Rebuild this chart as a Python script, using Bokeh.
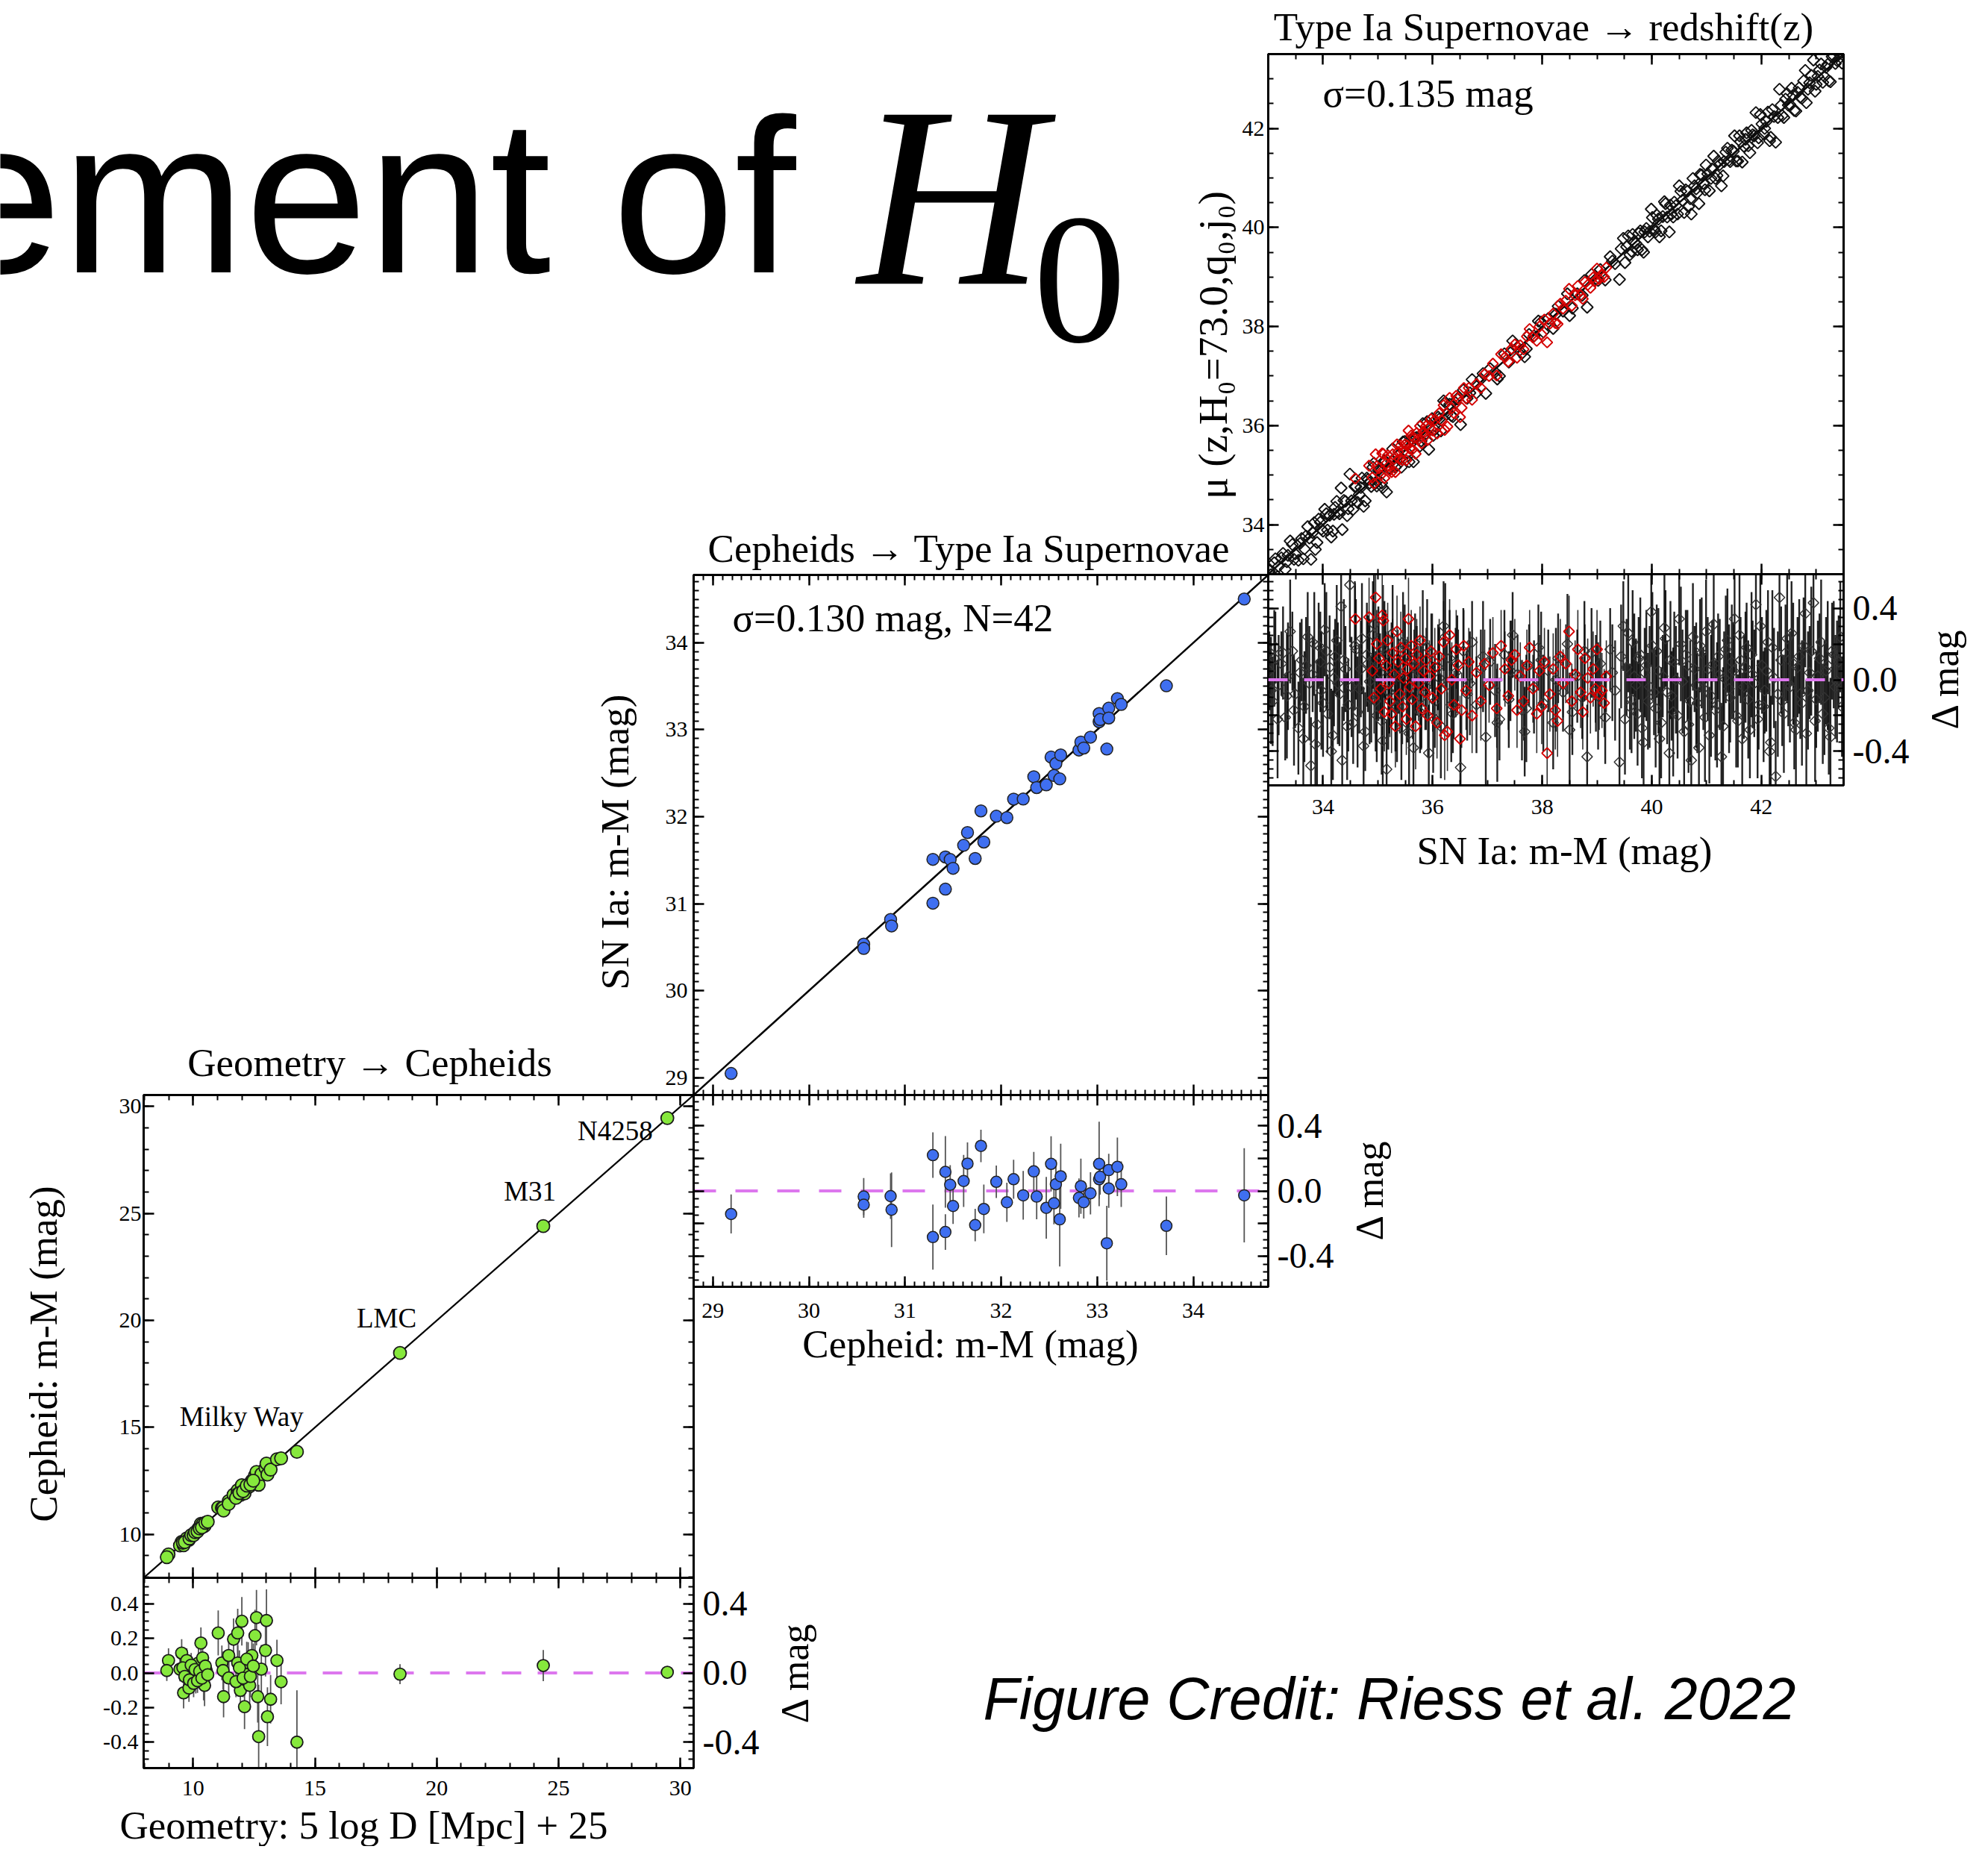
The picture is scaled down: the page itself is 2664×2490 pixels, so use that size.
import numpy as np
from bokeh.plotting import figure
from bokeh.models import (Range1d, LinearAxis, SingleIntervalTicker, CustomJSTickFormatter,
                          Span, Slope, ColumnDataSource, Column)
from bokeh.core.properties import value
from bokeh.embed import file_html
from bokeh.resources import INLINE

W, H = 2648, 2474
OFF = 8
SERIF = "Liberation Serif"
SANS = "Liberation Sans"

# ---------------- data: Geometry -> Cepheids ----------------
geo_mu = [8.99, 8.92, 9.53, 9.46, 9.61, 9.74, 9.83, 9.96, 10.11, 10.22,
          10.32, 10.39, 10.43, 10.54, 10.47, 9.58, 9.66, 9.85, 9.92, 10.02,
          10.08, 10.18, 10.27, 10.36, 10.50, 10.60, 11.03, 11.18, 11.23, 11.25,
          11.46, 11.46, 11.66, 11.83, 12.00, 11.83, 11.94, 12.11, 12.15, 12.26,
          12.32, 12.41, 12.54, 12.60, 12.65, 12.69, 12.80, 12.97, 13.01, 13.05,
          13.18, 13.44, 13.61, 14.26, 11.76, 11.90, 12.05, 12.20, 12.35, 12.47,
          18.49, 24.37, 29.46]
geo_dmu = [0.072, 0.014, 0.115, 0.022, -0.115, 0.072, -0.087, 0.014, -0.029, 0.058,
           0.173, 0.087, -0.058, 0.014, -0.072, 0.030, -0.020, -0.040, 0.045, -0.060,
           0.020, -0.045, 0.010, -0.030, 0.040, -0.010, 0.231, 0.058, 0.014, -0.137,
           0.101, -0.029, 0.195, 0.231, 0.299, 0.058, -0.101, -0.195, 0.000, 0.058,
           -0.072, 0.101, 0.216, 0.320, -0.137, -0.368, 0.022, 0.130, 0.303, -0.253,
           -0.152, 0.072, -0.051, -0.400, -0.050, 0.030, -0.030, 0.080, -0.020, 0.040,
           -0.007, 0.043, 0.004]
geo_err = [0.07, 0.06, 0.08, 0.07, 0.09, 0.07, 0.08, 0.08, 0.09, 0.08,
           0.09, 0.08, 0.10, 0.09, 0.12, 0.06, 0.07, 0.06, 0.07, 0.08,
           0.06, 0.07, 0.08, 0.07, 0.08, 0.09, 0.13, 0.10, 0.11, 0.12,
           0.10, 0.11, 0.12, 0.14, 0.14, 0.10, 0.12, 0.13, 0.11, 0.12,
           0.13, 0.12, 0.15, 0.16, 0.15, 0.30, 0.14, 0.15, 0.18, 0.17,
           0.14, 0.12, 0.13, 0.30, 0.09, 0.10, 0.11, 0.10, 0.12, 0.13,
           0.058, 0.09, 0.035]
geo_names = ["Milky Way", "LMC", "M31", "N4258"]

# ---------------- data: Cepheids -> SN Ia ----------------
ceph_mu = [29.19, 30.57, 30.57, 30.85, 30.86, 31.29, 31.29, 31.42, 31.42, 31.47,
           31.50, 31.61, 31.65, 31.73, 31.79, 31.82, 31.95, 32.06, 32.13, 32.23,
           32.34, 32.37, 32.47, 32.52, 32.55, 32.57, 32.62, 32.61, 32.81, 32.83,
           32.86, 32.93, 33.02, 33.02, 33.03, 33.10, 33.12, 33.12, 33.21, 33.25,
           33.72, 34.53]
ceph_dmu = [-0.142, -0.035, -0.085, -0.032, -0.116, 0.220, -0.284, 0.117, -0.253, 0.038,
            -0.093, 0.061, 0.168, -0.210, 0.277, -0.111, 0.056, -0.070, 0.072, -0.027,
            0.120, -0.035, -0.104, 0.166, -0.076, 0.041, 0.090, -0.175, -0.043, 0.029,
            -0.070, -0.015, 0.166, 0.072, 0.087, -0.322, 0.128, 0.015, 0.148, 0.041,
            -0.215, -0.027]
ceph_err = [0.12, 0.114, 0.08, 0.14, 0.23, 0.14, 0.20, 0.22, 0.11, 0.12,
            0.11, 0.16, 0.13, 0.10, 0.10, 0.15, 0.10, 0.12, 0.12, 0.15,
            0.12, 0.14, 0.19, 0.17, 0.13, 0.15, 0.20, 0.29, 0.12, 0.17,
            0.10, 0.13, 0.26, 0.12, 0.11, 0.23, 0.10, 0.12, 0.18, 0.14,
            0.18, 0.29]

# ---------------- data: SN Ia -> redshift (Hubble flow, black) ----------------
sn_mu = [33.02, 33.08, 33.13, 33.19, 33.24, 33.31, 33.36, 33.44, 33.49, 33.55,
         33.61, 33.66, 33.72, 33.78, 33.81, 33.86, 33.92, 33.97, 34.03, 34.08,
         34.12, 34.18, 34.22, 34.27, 34.33, 34.35, 34.41, 34.46, 34.49, 34.55,
         34.60, 34.66, 34.71, 34.77, 34.82, 34.88, 34.93, 34.98, 35.04, 35.09,
         35.14, 35.16, 35.21, 35.27, 35.32, 35.38, 35.43, 35.49, 35.54, 35.60,
         35.65, 35.71, 35.77, 35.82, 35.88, 35.93, 35.99, 36.04, 36.10, 36.15,
         36.20, 36.26, 36.31, 36.37, 36.42, 36.51, 36.56, 36.63, 36.72, 36.80,
         36.88, 36.97, 37.05, 37.14, 37.22, 37.31, 37.39, 37.46, 37.55, 37.63,
         37.68, 37.76, 37.85, 37.93, 38.02, 38.11, 38.20, 38.29, 38.38, 38.46,
         38.55, 38.64, 38.73, 38.82, 38.90, 38.98, 39.06, 39.15, 39.24, 39.33,
         39.41, 39.48, 39.54, 39.60, 39.65, 39.71, 39.76, 39.82, 39.87, 39.93,
         39.99, 40.04, 40.09, 40.14, 40.20, 40.25, 40.32, 40.36, 40.41, 40.47,
         40.50, 40.56, 40.62, 40.67, 40.72, 40.78, 40.83, 40.88, 40.94, 40.99,
         41.05, 41.10, 41.16, 41.21, 41.27, 41.32, 41.38, 41.43, 41.49, 41.51,
         41.57, 41.62, 41.68, 41.73, 41.79, 41.84, 41.90, 41.95, 42.01, 42.06,
         42.12, 42.17, 42.23, 42.26, 42.33, 42.38, 42.44, 42.49, 42.55, 42.60,
         42.66, 42.71, 42.77, 42.82, 42.88, 42.95, 43.00, 43.06, 43.12, 43.18,
         43.23, 43.29, 43.35, 43.41, 43.47,
         33.05, 33.11, 33.17, 33.27, 33.34, 33.40, 33.47, 33.58, 33.64, 33.69,
         33.75, 33.84, 33.89, 33.95, 34.00, 34.06, 34.15, 34.20, 34.25, 34.30,
         34.38, 34.44, 34.52, 34.58, 34.63, 34.69, 34.74, 34.80, 34.85, 34.91,
         34.96, 35.01, 35.07, 35.12, 35.19, 35.25, 35.35, 35.46, 35.57, 35.68,
         35.79, 35.90, 36.01, 36.12, 36.23, 36.34, 36.45, 36.68, 36.92, 37.18,
         37.42, 37.71, 37.98, 38.25, 38.50, 38.77, 39.02, 39.28, 39.44, 39.51,
         39.57, 39.63, 39.68, 39.74, 39.79, 39.85, 39.90, 39.96, 40.01, 40.07,
         40.12, 40.17, 40.23, 40.28, 40.34, 40.39, 40.44, 40.53, 40.59, 40.65,
         40.70, 40.75, 40.81, 40.86, 40.91, 40.97, 41.02, 41.08, 41.13, 41.19,
         41.24, 41.30, 41.35, 41.41, 41.46, 41.54, 41.60, 41.65, 41.71, 41.76,
         41.82, 41.87, 41.93, 41.98, 42.04, 42.09, 42.15, 42.20, 42.30, 42.36,
         42.41, 42.47, 42.52, 42.58, 42.63, 42.69, 42.74, 42.80, 42.85, 42.91,
         42.98, 43.03, 43.09, 43.15, 43.21, 43.26, 43.32, 43.38, 43.44]
sn_dmu = [0.05, -0.12, 0.18, -0.03, 0.09, -0.21, 0.02, 0.16, -0.08, -0.27,
          0.11, -0.15, 0.24, -0.48, 0.03, -0.36, 0.19, -0.06, 0.28, -0.19,
          0.07, -0.31, 0.13, -0.02, 0.41, -0.45, 0.06, -0.14, 0.53, -0.24,
          0.17, -0.05, 0.23, -0.29, 0.09, -0.11, 0.31, -0.20, 0.04, -0.34,
          0.14, -0.50, -0.07, 0.26, -0.16, 0.02, -0.27, 0.19, -0.09, 0.11,
          -0.38, 0.05, -0.18, 0.22, -0.04, -0.41, 0.15, -0.12, 0.07, -0.26,
          0.30, -0.03, 0.12, -0.19, 0.04, -0.49, 0.16, -0.08, 0.21, -0.14,
          0.06, -0.32, 0.10, -0.06, -0.22, 0.14, -0.11, 0.25, 0.03, -0.17,
          -0.29, 0.08, -0.04, 0.18, -0.13, 0.05, -0.24, 0.12, -0.07, 0.20,
          -0.18, 0.02, -0.10, -0.43, 0.15, -0.02, 0.09, -0.21, 0.17, -0.06,
          -0.46, 0.30, 0.07, -0.15, 0.21, -0.03, 0.12, -0.27, 0.04, -0.12,
          0.38, -0.07, 0.16, -0.33, 0.02, 0.23, -0.41, -0.09, 0.10, -0.20,
          0.34, -0.01, 0.14, -0.25, -0.45, 0.06, -0.13, 0.19, -0.05, 0.27,
          -0.31, 0.08, -0.17, 0.13, -0.43, 0.01, 0.22, -0.10, 0.05, 0.34,
          -0.23, 0.11, -0.04, 0.18, -0.28, 0.03, 0.42, -0.14, 0.08, -0.06,
          0.21, -0.35, 0.01, -0.54, 0.46, -0.12, 0.15, -0.02, 0.26, -0.24,
          0.07, -0.08, 0.19, -0.30, 0.04, 0.43, -0.11, 0.12, -0.19, 0.05,
          -0.27, 0.16, -0.04, 0.10, -0.15,
          -0.06, 0.12, -0.22, 0.15, -0.09, 0.27, -0.17, 0.04, -0.33, 0.08,
          -0.02, 0.20, -0.25, 0.10, -0.13, 0.16, -0.40, 0.01, 0.22, -0.08,
          0.11, -0.26, -0.04, 0.19, -0.18, 0.06, -0.37, 0.14, -0.01, 0.25,
          -0.12, 0.09, -0.23, 0.17, -0.06, 0.03, -0.15, 0.21, -0.30, 0.07,
          -0.10, 0.18, -0.21, 0.01, 0.24, -0.14, 0.09, -0.02, 0.13, -0.24,
          0.05, -0.16, 0.11, 0.00, -0.28, 0.16, -0.09, 0.04, 0.13, -0.22,
          0.26, -0.11, 0.02, -0.19, 0.14, -0.35, 0.08, -0.04, 0.19, -0.16,
          0.05, -0.24, 0.29, -0.07, 0.11, -0.18, 0.00, 0.20, -0.29, 0.08,
          -0.12, 0.24, -0.03, -0.38, 0.15, -0.21, 0.06, -0.09, 0.31, -0.14,
          0.03, -0.26, 0.17, -0.05, 0.10, -0.20, 0.25, -0.33, 0.07, -0.11,
          0.14, -0.02, -0.22, 0.30, -0.15, 0.05, -0.40, 0.18, -0.08, 0.11,
          -0.19, 0.23, -0.04, 0.09, -0.28, 0.13, -0.13, 0.37, -0.06, 0.16,
          -0.23, 0.02, 0.21, -0.10, 0.08, -0.32, 0.14, -0.01, 0.24]
sn_err = [0.22, 0.25, 0.20, 0.28, 0.18, 0.24, 0.30, 0.22, 0.19, 0.26,
          0.23, 0.31, 0.25, 0.27, 0.21, 0.28, 0.24, 0.33, 0.26, 0.22,
          0.29, 0.25, 0.21, 0.34, 0.27, 0.30, 0.24, 0.26, 0.32, 0.23,
          0.28, 0.25, 0.31, 0.22, 0.27, 0.24, 0.29, 0.26, 0.22, 0.30,
          0.25, 0.28, 0.23, 0.27, 0.24, 0.21, 0.29, 0.23, 0.26, 0.22,
          0.31, 0.25, 0.23, 0.28, 0.24, 0.27, 0.22, 0.26, 0.24, 0.29,
          0.25, 0.23, 0.27, 0.22, 0.25, 0.30, 0.24, 0.26, 0.23, 0.27,
          0.22, 0.29, 0.24, 0.26, 0.23, 0.25, 0.27, 0.24, 0.22, 0.28,
          0.25, 0.23, 0.26, 0.24, 0.27, 0.23, 0.26, 0.25, 0.22, 0.28,
          0.24, 0.26, 0.23, 0.29, 0.25, 0.27, 0.24, 0.26, 0.23, 0.28,
          0.30, 0.25, 0.27, 0.24, 0.29, 0.26, 0.23, 0.28, 0.25, 0.27,
          0.30, 0.24, 0.26, 0.29, 0.23, 0.27, 0.30, 0.25, 0.28, 0.24,
          0.26, 0.29, 0.25, 0.27, 0.31, 0.24, 0.28, 0.26, 0.23, 0.29,
          0.27, 0.25, 0.28, 0.24, 0.30, 0.26, 0.29, 0.25, 0.27, 0.30,
          0.26, 0.24, 0.29, 0.25, 0.27, 0.30, 0.28, 0.25, 0.27, 0.24,
          0.29, 0.26, 0.28, 0.31, 0.30, 0.25, 0.27, 0.24, 0.29, 0.26,
          0.28, 0.25, 0.27, 0.30, 0.26, 0.29, 0.27, 0.25, 0.28, 0.30,
          0.26, 0.27, 0.29, 0.26, 0.28,
          0.30, 0.27, 0.33, 0.26, 0.35, 0.29, 0.31, 0.28, 0.34, 0.27,
          0.32, 0.29, 0.36, 0.28, 0.30, 0.33, 0.35, 0.27, 0.31, 0.29,
          0.34, 0.30, 0.28, 0.36, 0.31, 0.27, 0.33, 0.29, 0.35, 0.30,
          0.28, 0.32, 0.30, 0.27, 0.33, 0.29, 0.31, 0.28, 0.34, 0.30,
          0.29, 0.27, 0.31, 0.28, 0.30, 0.32, 0.27, 0.29, 0.31, 0.33,
          0.28, 0.30, 0.27, 0.29, 0.32, 0.28, 0.30, 0.27, 0.29, 0.31,
          0.33, 0.30, 0.35, 0.29, 0.32, 0.36, 0.31, 0.34, 0.30, 0.33,
          0.35, 0.31, 0.34, 0.29, 0.33, 0.36, 0.30, 0.32, 0.37, 0.31,
          0.34, 0.30, 0.35, 0.33, 0.31, 0.36, 0.29, 0.34, 0.32, 0.35,
          0.31, 0.33, 0.30, 0.36, 0.32, 0.29, 0.34, 0.37, 0.31, 0.33,
          0.35, 0.30, 0.33, 0.36, 0.31, 0.34, 0.38, 0.32, 0.35, 0.30,
          0.33, 0.36, 0.31, 0.34, 0.37, 0.32, 0.35, 0.30, 0.33, 0.36,
          0.34, 0.31, 0.35, 0.32, 0.36, 0.33, 0.30, 0.34, 0.31]

# ---------------- data: SN Ia in Cepheid-range redshift sample (red) ----------------
red_mu = [34.59, 34.84, 34.96, 34.90, 34.93, 34.98, 35.02, 35.05, 35.08, 35.10,
          35.12, 35.15, 35.18, 35.20, 35.22, 35.25, 35.27, 35.30, 35.32, 35.35,
          35.37, 35.40, 35.42, 35.45, 35.47, 35.50, 35.52, 35.54, 35.56, 35.58,
          35.61, 35.63, 35.66, 35.69, 35.71, 35.74, 35.77, 35.80, 35.83, 35.86,
          35.88, 35.91, 35.94, 35.97, 36.00, 36.04, 36.08, 36.12, 36.16, 36.20,
          36.22, 36.27, 36.31, 36.35, 36.39, 36.43, 36.47, 36.50, 36.53, 36.57,
          36.61, 36.66, 36.72, 36.80, 36.88, 36.95, 37.03, 37.10, 37.17, 37.25,
          37.32, 37.38, 37.44, 37.50, 37.54, 37.60, 37.66, 37.72, 37.77, 37.83,
          37.90, 37.95, 37.99, 38.04, 38.09, 38.14, 38.20, 38.24, 38.28, 38.33,
          38.38, 38.43, 38.49, 38.54, 38.60, 38.65, 38.70, 38.74, 38.78, 38.83,
          38.88, 38.93, 38.97, 39.00, 39.04, 39.09, 39.13, 39.17]
red_dmu = [0.34, 0.35, 0.46, 0.05, -0.10, 0.20, 0.12, -0.05, 0.36, 0.33,
           -0.18, 0.08, 0.22, -0.02, -0.12, -0.19, 0.15, 0.03, -0.26, 0.27,
           0.10, -0.08, 0.18, -0.15, 0.01, 0.12, -0.22, 0.06, 0.34, -0.04,
           0.19, -0.11, 0.09, -0.26, 0.14, -0.02, 0.22, -0.16, 0.05, -0.07,
           0.11, -0.20, 0.02, 0.16, -0.10, 0.07, -0.24, 0.13, -0.05, 0.21,
           -0.31, -0.29, 0.25, 0.00, -0.14, 0.17, 0.08, -0.33, -0.17, 0.19,
           -0.06, 0.10, -0.20, 0.04, -0.12, 0.09, -0.03, 0.15, -0.16, 0.19,
           0.06, -0.09, 0.11, 0.14, -0.17, 0.02, -0.12, 0.08, 0.18, -0.05,
           -0.19, 0.05, -0.15, 0.10, -0.41, -0.08, 0.06, -0.17, -0.23, 0.13,
           -0.02, 0.09, 0.27, -0.12, 0.03, 0.17, -0.07, -0.18, 0.12, 0.01,
           -0.10, 0.06, -0.05, 0.17, -0.08, -0.06, -0.13, 0.02]
red_err = [0.20, 0.22, 0.24, 0.18, 0.20, 0.19, 0.21, 0.17, 0.23, 0.20,
           0.22, 0.19, 0.21, 0.18, 0.20, 0.22, 0.19, 0.21, 0.23, 0.20,
           0.18, 0.22, 0.20, 0.21, 0.19, 0.22, 0.20, 0.18, 0.23, 0.21,
           0.20, 0.22, 0.19, 0.24, 0.20, 0.21, 0.19, 0.22, 0.20, 0.21,
           0.18, 0.23, 0.20, 0.21, 0.19, 0.22, 0.20, 0.21, 0.19, 0.23,
           0.25, 0.22, 0.20, 0.21, 0.19, 0.22, 0.20, 0.24, 0.21, 0.20,
           0.22, 0.19, 0.21, 0.20, 0.22, 0.19, 0.21, 0.20, 0.22, 0.20,
           0.21, 0.19, 0.22, 0.20, 0.21, 0.19, 0.22, 0.20, 0.21, 0.19,
           0.22, 0.20, 0.21, 0.19, 0.24, 0.21, 0.20, 0.22, 0.20, 0.21,
           0.19, 0.22, 0.20, 0.21, 0.19, 0.22, 0.20, 0.21, 0.19, 0.22,
           0.20, 0.21, 0.19, 0.22, 0.20, 0.21, 0.19, 0.20]

for a, b, c in [(geo_mu, geo_dmu, geo_err), (ceph_mu, ceph_dmu, ceph_err),
                (sn_mu, sn_dmu, sn_err), (red_mu, red_dmu, red_err)]:
    assert len(a) == len(b) == len(c), (len(a), len(b), len(c))

# ---------------- helpers ----------------
F_BLANK = "return ''"
F_INT = "return Math.round(tick).toString()"
F_1F = "const v = Math.round(tick*10)/10; return (v === 0 ? 0 : v).toFixed(1)"
F_RIGHT = ("const v = Math.round(tick*10)/10; "
           "if (v === 0 || Math.abs(v) > 0.3) { return (v === 0 ? 0 : v).toFixed(1) } return ''")

ABS = {"position": "absolute", "left": "0px", "top": "0px"}


def make_axis(interval, nminor, fmt, size=30, standoff=6):
    return LinearAxis(ticker=SingleIntervalTicker(interval=interval, num_minor_ticks=nminor),
                      formatter=CustomJSTickFormatter(code=fmt),
                      major_tick_in=14, major_tick_out=0, minor_tick_in=7, minor_tick_out=0,
                      major_tick_line_width=2.5, minor_tick_line_width=2,
                      major_tick_line_color="black", minor_tick_line_color="black",
                      axis_line_width=3, axis_line_color="black",
                      major_label_text_font=SERIF, major_label_text_font_size=f"{size}px",
                      major_label_standoff=standoff, major_label_text_color="black")


def panel(L, T, R, B, xr, yr):
    f = figure(width=W, height=H, x_range=Range1d(*xr), y_range=Range1d(*yr),
               output_backend="svg", toolbar_location=None,
               x_axis_location=None, y_axis_location=None,
               min_border_left=L - OFF, min_border_right=W - (R - OFF),
               min_border_top=T - OFF, min_border_bottom=H - (B - OFF),
               background_fill_color=None, border_fill_color=None,
               outline_line_color="black", outline_line_width=3,
               frame_align=False, styles=ABS)
    f.grid.visible = False
    return f


def add_axes(f, xint, xmin, yint, ymin, below=F_BLANK, left=F_BLANK, right=F_BLANK,
             below_so=6, left_so=6, right_so=12, right_size=48):
    f.add_layout(make_axis(xint, xmin, below, 30, below_so), "below")
    f.add_layout(make_axis(xint, xmin, F_BLANK, 30, 0), "above")
    f.add_layout(make_axis(yint, ymin, left, 30, left_so), "left")
    f.add_layout(make_axis(yint, ymin, right, right_size, right_so), "right")


DASH_COLOR = "#dd77ee"
GREEN = "#86e83c"
BLUE = "#3f6ff0"
RED = "#d40000"

# ---------------- Panel 1: Geometry -> Cepheids ----------------
R1 = (7.97, 30.54)
p1m = panel(200, 1475, 937, 2122, R1, R1)
add_axes(p1m, 5, 5, 5, 5, left=F_INT, left_so=3)
p1m.add_layout(Slope(gradient=1, y_intercept=0, line_color="black", line_width=2.2, level="underlay"))
s1 = ColumnDataSource(dict(x=geo_mu, y=np.array(geo_mu) + np.array(geo_dmu)))
p1m.scatter("x", "y", source=s1, size=17, fill_color=GREEN, line_color="#1a1a1a", line_width=1.8)
p1m.text(x=[9.45, 16.71, 22.75, 25.78], y=[15.51, 20.12, 26.03, 28.88], text=geo_names,
         text_font=value(SERIF), text_font_size=value("37px"), text_color="black",
         text_align="left", text_baseline="alphabetic")

p1r = panel(200, 2122, 937, 2377, R1, (-0.55, 0.55))
add_axes(p1r, 5, 5, 0.2, 4, below=F_INT, left=F_1F, right=F_RIGHT, below_so=17, left_so=7)
p1r.add_layout(Span(location=0, dimension="width", line_color=DASH_COLOR, line_width=4,
                    line_dash="26 22", level="underlay"))
g_mu, g_d, g_e = np.array(geo_mu), np.array(geo_dmu), np.array(geo_err)
p1r.segment(x0=g_mu, y0=g_d - g_e, x1=g_mu, y1=g_d + g_e, line_color="#555555", line_width=1.8)
p1r.scatter(g_mu, g_d, size=16, fill_color=GREEN, line_color="#1a1a1a", line_width=1.8)

# ---------------- Panel 2: Cepheids -> SN Ia ----------------
R2 = (28.8, 34.78)
p2m = panel(937, 778, 1707, 1475, R2, R2)
add_axes(p2m, 1, 10, 1, 10, left=F_INT, left_so=8)
p2m.add_layout(Slope(gradient=1, y_intercept=0, line_color="black", line_width=2.5, level="underlay"))
c_mu, c_d, c_e = np.array(ceph_mu), np.array(ceph_dmu), np.array(ceph_err)
p2m.scatter(c_mu, c_mu + c_d, size=16, fill_color=BLUE, line_color="#222222", line_width=1.5)

p2r = panel(937, 1475, 1707, 1732, R2, (-0.59, 0.59))
add_axes(p2r, 1, 10, 0.2, 4, below=F_INT, right=F_RIGHT, below_so=22)
p2r.add_layout(Span(location=0, dimension="width", line_color=DASH_COLOR, line_width=4,
                    line_dash="30 26", level="underlay"))
p2r.segment(x0=c_mu, y0=c_d - c_e, x1=c_mu, y1=c_d + c_e, line_color="#555555", line_width=1.8)
p2r.scatter(c_mu, c_d, size=15, fill_color=BLUE, line_color="#222222", line_width=1.5)

# ---------------- Panel 3: SN Ia -> redshift ----------------
R3 = (33.0, 43.5)
p3m = panel(1707, 80, 2478, 777, R3, R3)
add_axes(p3m, 2, 4, 2, 4, left=F_INT, left_so=5)
p3m.add_layout(Slope(gradient=1, y_intercept=0, line_color="black", line_width=2.5, level="underlay"))
b_mu, b_d, b_e = np.array(sn_mu), np.array(sn_dmu), np.array(sn_err)
r_mu, r_d, r_e = np.array(red_mu), np.array(red_dmu), np.array(red_err)
p3m.scatter(b_mu, b_mu + b_d, marker="square", angle=np.pi / 4, size=11,
            fill_color=None, line_color="#111111", line_width=1.9)
p3m.scatter(r_mu, r_mu + r_d, marker="square", angle=np.pi / 4, size=10,
            fill_color=None, line_color=RED, line_width=2.0)

p3r = panel(1707, 777, 2478, 1060, R3, (-0.59, 0.59))
add_axes(p3r, 2, 4, 0.2, 4, below=F_INT, right=F_RIGHT, below_so=19)
p3r.segment(x0=b_mu, y0=b_d - b_e, x1=b_mu, y1=b_d + b_e, line_color="#0a0a0a", line_width=2.4, line_alpha=0.9)
p3r.segment(x0=r_mu, y0=r_d - r_e, x1=r_mu, y1=r_d + r_e, line_color="#0a0a0a", line_width=1.6, line_alpha=0.85)
p3r.scatter(b_mu, b_d, marker="square", angle=np.pi / 4, size=10,
            fill_color=None, line_color="#333333", line_width=1.5)
p3r.scatter(r_mu, r_d, marker="square", angle=np.pi / 4, size=10,
            fill_color=None, line_color=RED, line_width=1.9)
p3r.add_layout(Span(location=0, dimension="width", line_color=DASH_COLOR, line_width=4,
                    line_dash="26 22"))

# ---------------- page-level texts ----------------
page = figure(width=W, height=H, x_range=Range1d(0, W), y_range=Range1d(H, 0),
              output_backend="svg", toolbar_location=None, min_border=0,
              x_axis_location=None, y_axis_location=None,
              outline_line_color=None, background_fill_color="white", border_fill_color="white",
              frame_align=False, styles=ABS)
page.grid.visible = False


def ptext(x, y, s, font, size, align="left", angle=0.0, style="normal", k=0.23):
    # shift so that the glyph baseline lands on the requested (reference) position
    d = k * size
    if angle == 0.0:
        y = y - d
    else:
        x = x - d
    page.text(x=[x - OFF], y=[y - OFF], text=[s], text_font=value(font),
              text_font_size=value(f"{size}px"), text_align=align, text_baseline="alphabetic",
              angle=angle, text_color="black", text_font_style=style)


ptext(1074, 362, "ement of", SANS, 295, align="right", k=0.31)
ptext(1157, 362, "H", SERIF, 346, style="italic", k=0.262)
ptext(1392, 452, "0", SERIF, 249, k=0.273)
ptext(1325, 2304, "Figure Credit: Riess et al. 2022", SANS, 79, style="italic", k=0.25)

ptext(2076, 56, "Type Ia Supernovae \u2192 redshift(z)", SERIF, 53, align="center")
ptext(1306, 755, "Cepheids \u2192 Type Ia Supernovae", SERIF, 53, align="center")
ptext(503, 1444, "Geometry \u2192 Cepheids", SERIF, 53, align="center")

ptext(2104, 1160, "SN Ia: m-M (mag)", SERIF, 53, align="center")
ptext(1308, 1821, "Cepheid: m-M (mag)", SERIF, 53, align="center")
ptext(495, 2466, "Geometry: 5 log D [Mpc] + 25", SERIF, 53, align="center")

ptext(1646, 470, "\u03bc (z,H\u2080=73.0,q\u2080,j\u2080)", SERIF, 55, align="center", angle=np.pi / 2)
ptext(844, 1136, "SN Ia: m-M (mag)", SERIF, 53, align="center", angle=np.pi / 2)
ptext(78, 1822, "Cepheid: m-M (mag)", SERIF, 53, align="center", angle=np.pi / 2)

ptext(1085, 2249, "\u0394 mag", SERIF, 52, align="center", angle=np.pi / 2)
ptext(1855, 1602, "\u0394 mag", SERIF, 52, align="center", angle=np.pi / 2)
ptext(2626, 917, "\u0394 mag", SERIF, 52, align="center", angle=np.pi / 2)

ptext(1780, 145, "\u03c3=0.135 mag", SERIF, 53)
ptext(989, 848, "\u03c3=0.130 mag, N=42", SERIF, 53)

figs = [page, p1m, p1r, p2m, p2r, p3m, p3r]
root = Column(children=figs, width=W, height=H, styles={"position": "relative"})
open("out.html", "w").write(file_html(root, INLINE))
